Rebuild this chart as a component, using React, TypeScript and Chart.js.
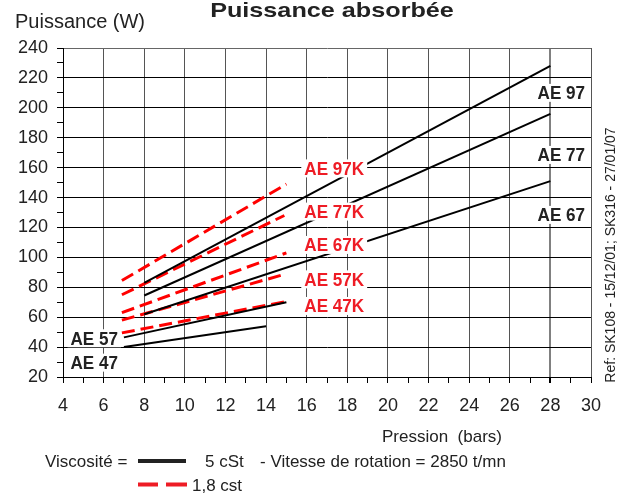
import React, { useEffect, useRef } from 'react';
import { Chart, registerables } from 'chart.js';

Chart.register(...registerables);

// ---- Data (pressure in bars, power in W) ----
const xTicksRange = [4, 30];
const yTicksRange = [20, 240];

// 5 cSt curves (solid black)
const ae97 = [{ x: 8, y: 83 }, { x: 28, y: 228 }];
const ae77 = [{ x: 8, y: 74.5 }, { x: 28, y: 196 }];
const ae67 = [{ x: 8, y: 62 }, { x: 28, y: 151 }];
const ae57 = [{ x: 7, y: 46.5 }, { x: 15, y: 70 }];
const ae47 = [{ x: 7, y: 40 }, { x: 14, y: 54 }];

// 1.8 cSt curves (dashed red)
const ae97k = [{ x: 6.9, y: 84.5 }, { x: 15, y: 149 }];
const ae77k = [{ x: 6.9, y: 75 }, { x: 14.9, y: 128 }];
const ae67k = [{ x: 6.9, y: 63 }, { x: 15, y: 103 }];
const ae57k = [{ x: 6.9, y: 58 }, { x: 15, y: 89 }];
const ae47k = [{ x: 6.9, y: 49.5 }, { x: 15, y: 70.5 }];

const names5 = ['AE 97', 'AE 77', 'AE 67', 'AE 57', 'AE 47'];
const series5 = [ae97, ae77, ae67, ae57, ae47];
const names18 = ['AE 97K', 'AE 77K', 'AE 67K', 'AE 57K', 'AE 47K'];
const series18 = [ae97k, ae77k, ae67k, ae57k, ae47k];

// Curve label anchors (right edge, vertical centre) in data units
const blackLabelX = [29.71, 29.71, 29.71, 6.71, 6.71];
const blackLabelY = [210, 168.5, 128.4, 45.9, 29.6];
const redLabelX = [18.83, 18.83, 18.83, 18.83, 18.83];
const redLabelY = [159.5, 130.6, 108.3, 85.3, 67.5];

const RED = '#ee1c25';
const FONT = '"Liberation Sans", Arial, Helvetica, sans-serif';

const overlay = {
  id: 'overlay',
  afterDatasetsDraw(chart: any) {
    const { ctx, scales } = chart;
    const xs = scales.x, ys = scales.y;
    const drawLabel = (text: string, vx: number, vy: number, color: string) => {
      const px = xs.getPixelForValue(vx);
      const py = ys.getPixelForValue(vy);
      ctx.save();
      ctx.font = `bold 19px ${FONT}`;
      const w = ctx.measureText(text).width * 0.9;
      ctx.fillStyle = '#fff';
      ctx.fillRect(px - w - 3, py - 9, w + 6, 18);
      ctx.translate(px, py);
      ctx.scale(0.9, 1);
      ctx.textAlign = 'right';
      ctx.textBaseline = 'middle';
      ctx.fillStyle = color;
      ctx.fillText(text, 0, 1);
      ctx.restore();
    };
    names5.forEach((n, i) => drawLabel(n, blackLabelX[i], blackLabelY[i], '#222'));
    names18.forEach((n, i) => drawLabel(n, redLabelX[i], redLabelY[i], RED));
  },
  afterDraw(chart: any) {
    const { ctx } = chart;
    ctx.save();
    // Title
    ctx.fillStyle = '#222';
    ctx.font = `bold 21px ${FONT}`;
    ctx.textAlign = 'center';
    ctx.textBaseline = 'alphabetic';
    ctx.save();
    ctx.translate(332, 17);
    ctx.scale(1.2, 1);
    ctx.fillText('Puissance absorbée', 0, 0);
    ctx.restore();
    // Y title
    ctx.font = `20px ${FONT}`;
    ctx.textAlign = 'left';
    ctx.fillText('Puissance (W)', 15, 28);
    // X title
    ctx.font = `17px ${FONT}`;
    ctx.textAlign = 'right';
    ctx.textBaseline = 'middle';
    ctx.fillText('Pression  (bars)', 502, 437);
    // Legend
    ctx.textAlign = 'left';
    ctx.fillText('Viscosité =', 45, 462);
    ctx.fillText('5 cSt', 205, 462);
    ctx.fillText('- Vitesse de rotation = 2850 t/mn', 260, 462);
    ctx.fillText('1,8 cst', 192, 486);
    ctx.lineWidth = 4;
    ctx.strokeStyle = '#222';
    ctx.beginPath();
    ctx.moveTo(138, 461);
    ctx.lineTo(186, 461);
    ctx.stroke();
    ctx.strokeStyle = RED;
    ctx.beginPath();
    ctx.moveTo(138, 484.5);
    ctx.lineTo(158, 484.5);
    ctx.moveTo(166, 484.5);
    ctx.lineTo(187, 484.5);
    ctx.stroke();
    // Reference text (vertical)
    ctx.font = `14px ${FONT}`;
    ctx.textAlign = 'center';
    ctx.translate(611, 255);
    ctx.rotate(-Math.PI / 2);
    ctx.fillText('Ref: SK108 - 15/12/01; SK316 - 27/01/07', 0, 0);
    ctx.restore();
  },
};

export default function App() {
  const ref = useRef<HTMLCanvasElement>(null);
  useEffect(() => {
    document.body.style.margin = '0';
    const datasets: any[] = [];
    series5.forEach((d, i) =>
      datasets.push({
        label: names5[i] + ' (5 cSt)',
        data: d,
        borderColor: '#000',
        borderWidth: 2,
        pointRadius: 0,
        fill: false,
      })
    );
    series18.forEach((d, i) =>
      datasets.push({
        label: names18[i] + ' (1,8 cSt)',
        data: d,
        borderColor: '#ff0000',
        borderWidth: 3,
        borderDash: [13, 6],
        pointRadius: 0,
        fill: false,
      })
    );
    const chart = new Chart(ref.current!, {
      type: 'line',
      data: { datasets },
      options: {
        animation: false,
        responsive: false,
        parsing: true,
        layout: { padding: { top: 48, right: 39, left: 0, bottom: 0 } },
        plugins: { legend: { display: false }, title: { display: false }, tooltip: { enabled: false } },
        scales: {
          x: {
            type: 'linear',
            min: xTicksRange[0],
            max: xTicksRange[1],
            afterFit: (s: any) => { s.height = 118; },
            ticks: {
              stepSize: 1,
              autoSkip: false,
              maxRotation: 0,
              padding: 12,
              color: '#222',
              font: { size: 18, family: FONT },
              callback: (v: any) => (Number(v) % 2 === 0 ? String(v) : ''),
            },
            grid: {
              color: (c: any) => {
                const v = c.tick?.value;
                if (v === undefined) return '#555';
                if (v % 2 !== 0) return 'rgba(0,0,0,0)';
                return v === 28 ? '#808080' : '#555';
              },
              lineWidth: (c: any) => (c.tick?.value === 28 ? 2 : 1),
              tickColor: '#000',
              tickLength: 6,
            },
            border: { display: true, color: '#000', width: 1 },
          },
          y: {
            type: 'linear',
            min: yTicksRange[0],
            max: yTicksRange[1],
            afterFit: (s: any) => { s.width = 63; },
            ticks: {
              stepSize: 10,
              autoSkip: false,
              padding: 9,
              color: '#222',
              font: { size: 18, family: FONT },
              callback: (v: any) => (Number(v) % 20 === 0 ? String(v) : ''),
            },
            grid: {
              color: (c: any) => {
                const v = c.tick?.value;
                if (v === undefined) return '#000';
                if (v % 20 !== 0) return 'rgba(0,0,0,0)';
                return v === 240 ? '#666' : '#000';
              },
              tickColor: '#000',
              tickLength: 6,
            },
            border: { display: true, color: '#000', width: 1 },
          },
        },
      },
      plugins: [overlay],
    });
    return () => chart.destroy();
  }, []);
  return (
    <div style={{ width: 630, height: 495, background: '#fff' }}>
      <canvas ref={ref} width={630} height={495} style={{ display: 'block' }} />
    </div>
  );
}
